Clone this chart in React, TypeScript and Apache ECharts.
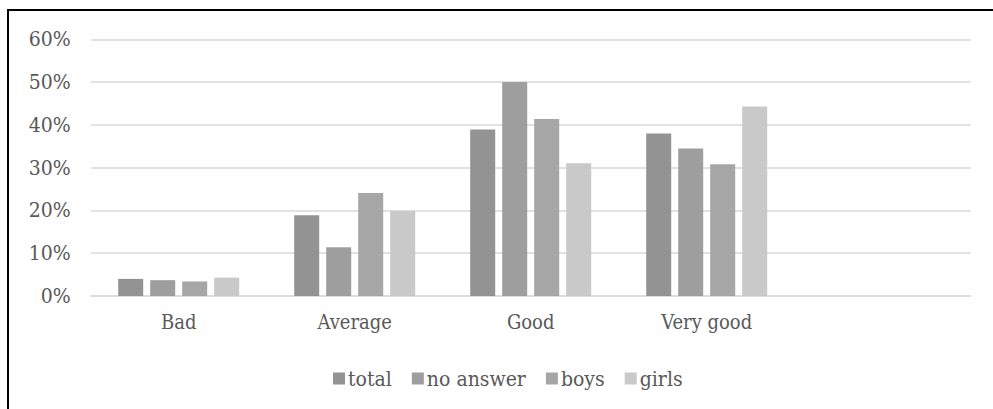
import React, { useEffect, useRef } from "react";
import * as echarts from "echarts";

const categories = ["Bad", "Average", "Good", "Very good", ""];
const seriesNames = ["total", "no answer", "boys", "girls"];
const totalValues = [4.0, 18.9, 38.9, 38.0, null];
const noAnswerValues = [3.7, 11.4, 50.0, 34.5, null];
const boysValues = [3.4, 24.1, 41.4, 30.8, null];
const girlsValues = [4.3, 19.9, 31.0, 44.3, null];
const colors = ["#939393", "#9e9e9e", "#a6a6a6", "#c9c9c9"];
const yTicks = { min: 0, max: 60, interval: 10 };

const FONT = "DejaVu Serif Condensed, DejaVu Serif";

export default function App() {
  const ref = useRef<HTMLDivElement>(null);
  useEffect(() => {
    if (!ref.current) return;
    const chart = echarts.init(ref.current, undefined, { renderer: "svg" });
    const values = [totalValues, noAnswerValues, boysValues, girlsValues];
    chart.setOption({
      animation: false,
      textStyle: { fontFamily: FONT },
      grid: { left: 90.7, right: 22.3, top: 39.3, bottom: 113 },
      legend: {
        left: 328,
        top: 363,
        itemWidth: 12,
        itemHeight: 12,
        itemGap: 20,
        icon: "rect",
        textStyle: { fontFamily: FONT, fontSize: 21, color: "#595959", padding: [0, 0, 0, -2] },
        data: seriesNames,
      },
      xAxis: {
        type: "category",
        data: categories,
        axisLine: { lineStyle: { color: "#d9d9d9", width: 1.5 } },
        axisTick: { show: false },
        axisLabel: { fontFamily: FONT, fontSize: 20, color: "#595959", margin: 16 },
      },
      yAxis: {
        type: "value",
        min: yTicks.min,
        max: yTicks.max,
        interval: yTicks.interval,
        axisLine: { show: false },
        axisTick: { show: false },
        splitLine: { lineStyle: { color: "#d9d9d9", width: 1.5 } },
        axisLabel: {
          fontFamily: FONT,
          fontSize: 21,
          color: "#595959",
          margin: 20,
          formatter: (v: number) => v + "%",
        },
      },
      series: seriesNames.map((name, i) => ({
        name,
        type: "bar",
        data: values[i],
        barWidth: 25,
        barGap: "28%",
        itemStyle: { color: colors[i] },
      })),
    });
    return () => chart.dispose();
  }, []);
  return (
    <div style={{ position: "fixed", left: 0, top: 0, width: 993, height: 409, background: "#fff" }}>
      <div ref={ref} style={{ position: "absolute", left: 0, top: 0, width: 993, height: 409 }} />
      <div
        style={{
          position: "absolute",
          left: 7,
          top: 9,
          width: 1100,
          height: 500,
          borderTop: "2px solid #000",
          borderLeft: "2px solid #000",
          pointerEvents: "none",
        }}
      />
    </div>
  );
}
